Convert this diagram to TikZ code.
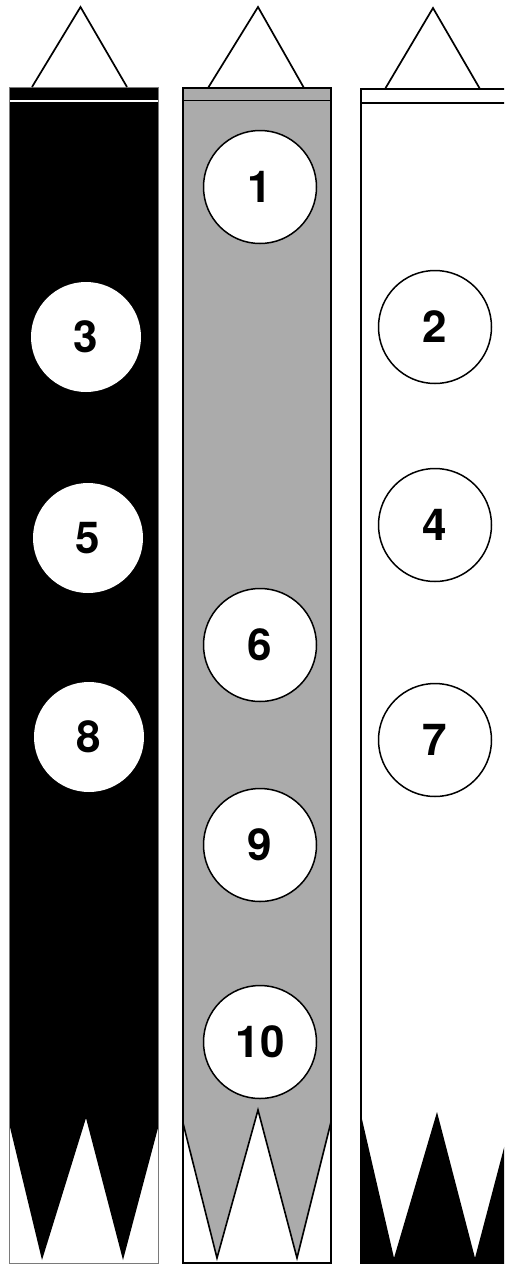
\documentclass[tikz,border=0pt]{standalone}
\usepackage{fontspec}
\setmainfont{TeX Gyre Heros}
\usetikzlibrary{positioning}
\definecolor{raster}{HTML}{ABABAB}
\definecolor{rand}{HTML}{7A7A7A}
\tikzset{
  % fahnen
  spitze/.style={draw=black,line width=1.7pt,line join=miter},
  rahmen/.style={draw=black,line width=1.6pt},
  dunn/.style={draw=rand,line width=0.9pt},
  zacke/.style={draw=black,line width=1.6pt,line join=miter},
  % scheiben
  sch/.style={circle,fill=white,inner sep=0pt,text=black,
              font=\bfseries\fontsize{44}{44}\selectfont},
  schw/.style={sch,minimum size=110pt},
  schr/.style={sch,draw=black,line width=1.5pt,minimum size=113pt},
}
\begin{document}
\begin{tikzpicture}[x=1pt,y=-1pt]
  \useasboundingbox (0,0) rectangle (504,1264);
  \clip (0,0) rectangle (504,1264);
  % links schwarz
  \fill[black] (9,87) -- (158,87) -- (158,1128) -- (123,1260) -- (86,1118)
    -- (42,1260) -- (9,1123) -- cycle;
  \draw[white,line width=2pt] (9,100.5) -- (158,100.5);
  \draw[dunn] (9,87) rectangle (158,1263);
  \draw[spitze] (32,87) -- (80.5,7) -- (127,87);
  \node[schw] (c3) at (86,337) {3};
  \node[schw] (c5) at (88,538) {5};
  \node[schw] (c8) at (89,737) {8};
  % mitte raster
  \fill[raster] (183,88) -- (331,88) -- (331,1122) -- (297,1258) -- (258,1110)
    -- (217,1258) -- (183,1123) -- cycle;
  \draw[zacke] (183,1123) -- (217,1258) -- (258,1110) -- (297,1258) -- (331,1122);
  \draw[rahmen] (183,88) rectangle (331,1263);
  \draw[rahmen] (183,100.5) -- (331,100.5);
  \draw[spitze] (208,88) -- (258,7) -- (304,88);
  \node[schr] (c1) at (260,187) {1};
  \node[schr] (c6) at (260,645) {6};
  \node[schr] (c9) at (260,845) {9};
  \node[schr] (c10) at (260,1042) {10};
  % rechts weiss
  \fill[black] (361,1115) -- (394,1258) -- (437,1112) -- (475,1258) -- (510,1125)
    -- (510,1264) -- (361,1264) -- cycle;
  \draw[rahmen] (361,1264) -- (361,89) -- (510,89);
  \draw[rahmen] (361,103) -- (510,103);
  \draw[spitze] (385,89) -- (433,8) -- (480,89);
  \node[schr] (c2) at (435,327) {2};
  \node[schr] (c4) at (435,525) {4};
  \node[schr] (c7) at (435,740) {7};
\end{tikzpicture}
\end{document}
